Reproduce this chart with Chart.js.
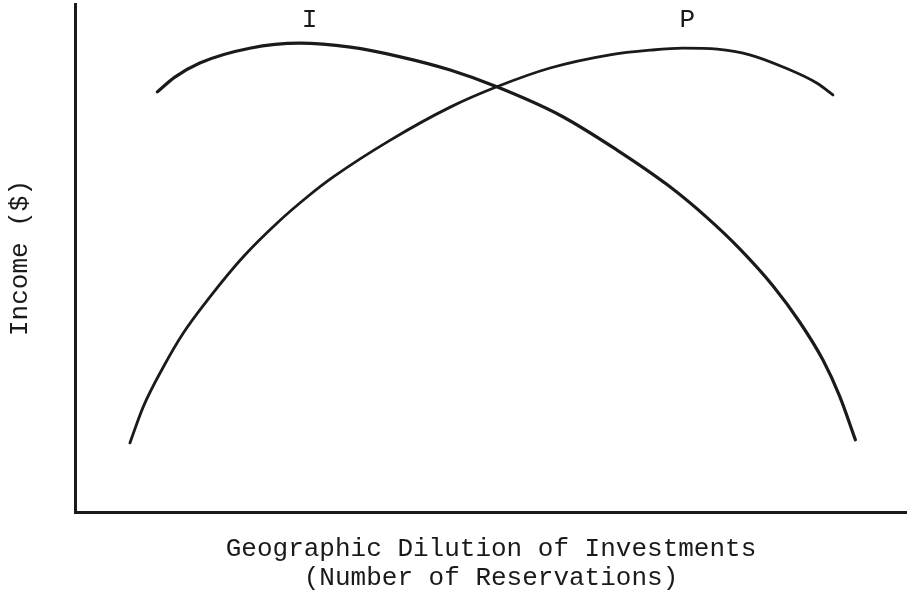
<!DOCTYPE html>
<html>
<head>
<meta charset="utf-8">
<script src="https://cdn.jsdelivr.net/npm/chart.js@4/dist/chart.umd.min.js"></script>
<style>
  html, body { margin: 0; padding: 0; background: #fff; }
  #wrap { width: 907px; height: 594px; }
</style>
</head>
<body>
<div id="wrap"><canvas id="chart"></canvas></div>
<script>
// Кривая I (x — разбросанность вложений, y — доход)
const curveIX = [9.9, 12.0, 15.0, 21.0, 27.0, 33.1, 39.1, 45.1, 50.7, 58.3, 65.1, 71.2, 76.0, 79.9, 83.9, 87.1, 89.9, 91.9, 93.8];
const curveIY = [82.7, 85.6, 88.4, 91.3, 92.3, 91.5, 89.6, 87.0, 83.7, 78.1, 71.3, 64.4, 57.9, 51.8, 44.5, 37.4, 29.9, 22.8, 14.2];

// Кривая P
const curvePX = [6.6, 8.2, 10.6, 13.0, 16.2, 20.2, 24.3, 27.9, 31.0, 37.9, 45.1, 50.7, 57.1, 64.3, 69.1, 73.1, 77.2, 81.1, 85.1, 89.2, 91.1];
const curvePY = [13.6, 20.7, 28.5, 35.2, 42.3, 50.2, 56.9, 62.0, 65.9, 73.2, 79.7, 83.7, 87.4, 90.0, 90.9, 91.3, 91.1, 90.0, 87.6, 84.4, 82.1];

// Подписи кривых
const curveNames = ['I', 'P'];
const curveNameX = [28.2, 73.6];
const curveNameY = [96.9, 96.9];

const xTitle = ['Geographic Dilution of Investments', '(Number of Reservations)'];
const yTitle = 'Income ($)';

const ink = '#1a1a1a';
const monoFont = "'Liberation Mono', 'DejaVu Sans Mono', monospace";

const toPoints = (xs, ys) => xs.map((x, i) => ({ x, y: ys[i] }));

// Плагин для букв над кривыми
const curveNamesPlugin = {
  id: 'curveNames',
  afterDatasetsDraw(chart) {
    const { ctx, scales } = chart;
    ctx.save();
    ctx.fillStyle = ink;
    ctx.font = `26px ${monoFont}`;
    ctx.textAlign = 'center';
    ctx.textBaseline = 'middle';
    curveNames.forEach((name, i) => {
      ctx.fillText(name, scales.x.getPixelForValue(curveNameX[i]), scales.y.getPixelForValue(curveNameY[i]));
    });
    ctx.restore();
  },
};

const ctx = document.getElementById('chart').getContext('2d');
new Chart(ctx, {
  type: 'scatter',
  data: {
    datasets: [
      {
        label: 'I',
        data: toPoints(curveIX, curveIY),
        showLine: true,
        borderColor: ink,
        borderWidth: 3.2,
        pointRadius: 0,
        cubicInterpolationMode: 'monotone',
        borderCapStyle: 'round',
      },
      {
        label: 'P',
        data: toPoints(curvePX, curvePY),
        showLine: true,
        borderColor: ink,
        borderWidth: 2.8,
        pointRadius: 0,
        cubicInterpolationMode: 'monotone',
        borderCapStyle: 'round',
      },
    ],
  },
  options: {
    animation: false,
    responsive: true,
    maintainAspectRatio: false,
    layout: { padding: { top: 4, right: 0, left: 0, bottom: 0 } },
    plugins: {
      legend: { display: false },
      tooltip: { enabled: false },
    },
    scales: {
      x: {
        type: 'linear',
        min: 0,
        max: 100,
        grid: { display: false, drawTicks: false },
        border: { display: true, color: ink, width: 3 },
        ticks: { display: false },
        title: {
          display: true,
          text: xTitle,
          color: ink,
          font: { family: monoFont, size: 26, lineHeight: 1.1 },
          padding: { top: 0, bottom: 2 },
        },
        afterFit: (scale) => { scale.height = 82; },
      },
      y: {
        type: 'linear',
        min: 0,
        max: 100,
        grid: { display: false, drawTicks: false },
        border: { display: true, color: ink, width: 3 },
        ticks: { display: false },
        title: {
          display: true,
          text: yTitle,
          color: ink,
          font: { family: monoFont, size: 26, lineHeight: 1.1 },
          padding: { top: 6, bottom: 0 },
        },
        afterFit: (scale) => { scale.width = 75; },
      },
    },
  },
  plugins: [curveNamesPlugin],
});
</script>
</body>
</html>
